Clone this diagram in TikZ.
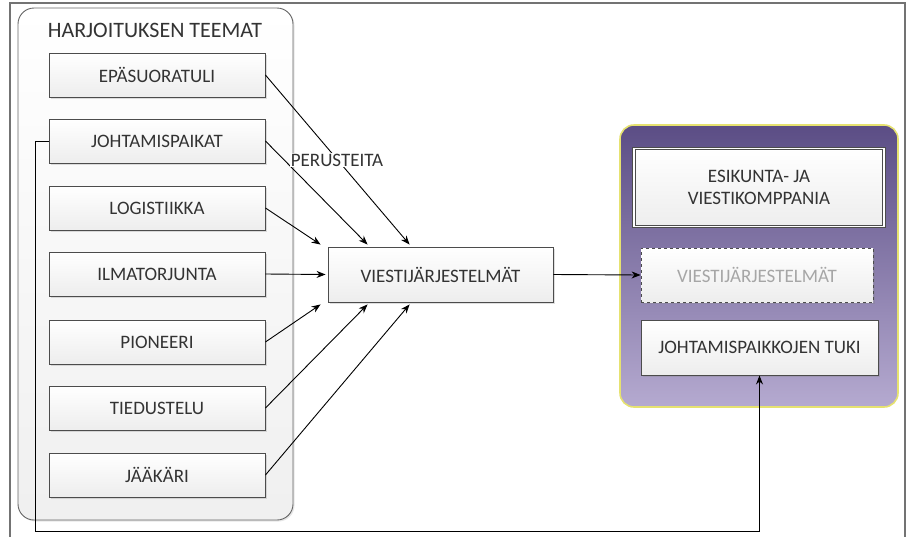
\documentclass[tikz,border=0pt]{standalone}
\usepackage{fontspec}
\setmainfont{Carlito}
\usetikzlibrary{shadows,arrows.meta}

\definecolor{violetti}{HTML}{5B4D85}
\definecolor{vaalvioletti}{HTML}{B5AAD0}
\definecolor{keltareuna}{HTML}{E6E270}
\definecolor{tekstiharmaa}{HTML}{333333}

\begin{document}
\begin{tikzpicture}[>={Stealth[length=9pt,width=7pt]},x=1pt,y=-1pt,line width=0.9pt,
    laatikko/.style={draw=black!70,top color=white,bottom color=gray!14,
      text=tekstiharmaa,font=\fontsize{19}{22}\selectfont,
      drop shadow={shadow xshift=1.5pt,shadow yshift=-1.5pt,opacity=0.25}},
    teema/.style={laatikko,minimum width=216pt,minimum height=44pt}]
  \useasboundingbox (0,0) rectangle (911,536);

  % Outer frame
  \draw[black!55,line width=1.4pt] (10,545) -- (10,3) -- (905,3) -- (905,545);

  % Exercise themes
  \node[draw=black!60,rounded corners=16pt,top color=white,bottom color=gray!12,
    minimum width=275pt,minimum height=512pt,
    drop shadow={shadow xshift=1.5pt,shadow yshift=-1.5pt,opacity=0.2}] (teemat) at (155.5,264) {};
  \node[text=tekstiharmaa,font=\fontsize{22}{26}\selectfont] (otsikko) at (155,30) {HARJOITUKSEN TEEMAT};
  \node[teema] (epa) at (157,75) {EPÄSUORATULI};
  \node[teema] (jht) at (157,141) {JOHTAMISPAIKAT};
  \node[teema] (log) at (157,208) {LOGISTIIKKA};
  \node[teema] (ilm) at (157,274) {ILMATORJUNTA};
  \node[teema] (pio) at (157,342) {PIONEERI};
  \node[teema] (tie) at (157,408) {TIEDUSTELU};
  \node[teema] (jaa) at (157,475) {JÄÄKÄRI};

  % Signal systems
  \node[laatikko,minimum width=225pt,minimum height=55pt] (vj) at (440.5,274.5) {VIESTIJÄRJESTELMÄT};

  % Company
  \node[draw=keltareuna,line width=1.6pt,rounded corners=14pt,top color=violetti,bottom color=vaalvioletti,
    minimum width=278pt,minimum height=282pt] (komppania) at (759,266) {};
  \node[laatikko,double=white,double distance=1.4pt,minimum width=250pt,minimum height=78pt,
    align=center] (esk) at (759,187.5) {ESIKUNTA- JA\\VIESTIKOMPPANIA};
  \node[laatikko,dashed,text=black!35,minimum width=232pt,minimum height=54pt] (vj2) at (757,275) {VIESTIJÄRJESTELMÄT};
  \node[laatikko,minimum width=237pt,minimum height=55pt] (tuki) at (759.5,347.5) {JOHTAMISPAIKKOJEN TUKI};

  % Inputs
  \draw[->] (epa.east) -- ([xshift=82pt,yshift=2pt]vj.north west);
  \draw[->] (jht.east) -- ([xshift=40pt,yshift=2pt]vj.north west);
  \draw[->] (log.east) -- ([xshift=-7pt,yshift=2pt]vj.north west);
  \draw[->] (ilm.east) -- ([xshift=-2pt]vj.west);
  \draw[->] (pio.east) -- ([xshift=-7pt,yshift=-2pt]vj.south west);
  \draw[->] (tie.east) -- ([xshift=40pt,yshift=-2pt]vj.south west);
  \draw[->] (jaa.east) -- ([xshift=82pt,yshift=-2pt]vj.south west);
  \node[fill=white,inner sep=1pt,text=tekstiharmaa,font=\fontsize{19}{22}\selectfont] (perusteita) at (337,160) {PERUSTEITA};

  % Output and feedback
  \draw[->] (vj.east) -- (vj2.west);
  \coordinate (paluu) at (35,531);
  \draw[->] (jht.west) -| (paluu) -| (tuki.south);
\end{tikzpicture}
\end{document}
